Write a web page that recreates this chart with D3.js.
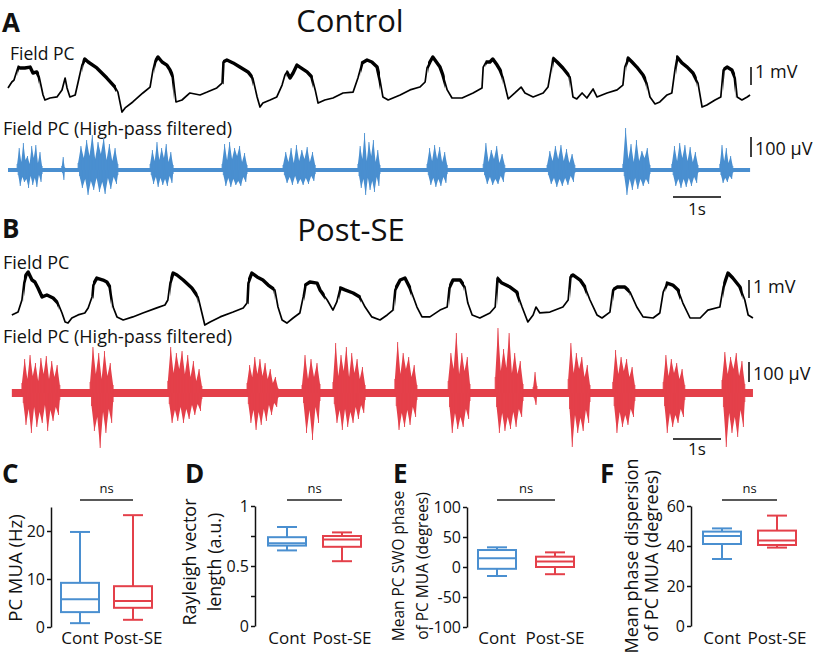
<!DOCTYPE html>
<html><head><meta charset="utf-8">
<script src="https://cdn.jsdelivr.net/npm/d3@7"></script>
<style>body{margin:0;background:#fff} svg{display:block} text{font-family:"Open Sans",sans-serif;fill:#111}</style>
</head><body><svg id="c" width="820" height="658"></svg>
<script>
// ---------- DATA ----------
// LFP traces: [time (s), potential (mV)]
const controlLFP = [[0,0.67],[0.08,1.0],[0.125,1.11],[0.21,1.83],[0.25,1.78],[0.35,1.78],[0.46,1.83],[0.52,1.5],[0.6,1.56],[0.65,1.28],[0.73,0.28],[0.77,0],[0.875,0.11],[1.02,0.17],[1.125,0.56],[1.19,1.22],[1.23,0.67],[1.29,0.17],[1.4,0.28],[1.48,1.22],[1.54,1.94],[1.6,2.28],[1.67,2.11],[1.85,1.78],[2.06,1.22],[2.23,0.72],[2.29,0.44],[2.375,-0.67],[2.44,-0.44],[2.6,-0.11],[2.81,0.39],[2.96,0.72],[3.02,1.67],[3.06,2.11],[3.125,2.39],[3.21,2.11],[3.31,1.94],[3.375,1.67],[3.44,1.28],[3.5,-0.11],[3.625,0],[3.79,0.39],[4.0,0.28],[4.15,0.44],[4.35,0.67],[4.46,0.94],[4.48,2.11],[4.56,2.22],[4.69,2.06],[4.83,1.83],[5.0,1.56],[5.1,1.22],[5.19,0.17],[5.25,-0.39],[5.31,-0.17],[5.46,0],[5.6,0.17],[5.71,0.83],[5.77,1.39],[5.81,1.56],[5.875,1.22],[5.94,1.5],[6.02,1.94],[6.08,1.83],[6.23,1.56],[6.33,1.28],[6.4,0.56],[6.46,-0.17],[6.6,0],[6.77,0.11],[6.98,0.39],[7.19,0.44],[7.29,1.22],[7.375,2.06],[7.48,2.22],[7.58,2.11],[7.69,1.83],[7.75,1.11],[7.81,0.17],[7.92,0],[8.17,0.28],[8.375,0.56],[8.58,0.72],[8.69,1.0],[8.73,1.78],[8.79,2.11],[8.85,2.39],[8.94,2.06],[9.0,1.83],[9.06,1.39],[9.15,0.56],[9.25,0.11],[9.46,0.11],[9.69,0.39],[9.875,0.67],[9.9,1.83],[9.96,2.11],[10.04,2.11],[10.1,2.28],[10.19,1.94],[10.25,1.67],[10.31,1.28],[10.42,0.06],[10.56,0.39],[10.69,0.72],[10.77,0.39],[10.94,0.17],[11.15,0.39],[11.25,0.72],[11.33,1.94],[11.35,2.33],[11.44,2.11],[11.56,1.78],[11.71,1.28],[11.77,0.17],[11.85,0.06],[11.96,0.39],[12.06,0.11],[12.19,0.61],[12.27,0.17],[12.48,0.39],[12.69,0.56],[12.81,0.83],[12.85,1.83],[12.92,2.33],[13.0,2.11],[13.1,1.83],[13.23,1.39],[13.31,0.94],[13.375,0.17],[13.48,-0.22],[13.58,-0.11],[13.73,0.28],[13.83,0.39],[13.9,1.78],[13.94,2.39],[14.04,2.06],[14.15,1.83],[14.27,1.5],[14.375,0.94],[14.46,-0.39],[14.56,-0.28],[14.73,0],[14.85,0.17],[14.9,1.67],[14.98,1.83],[15.08,1.67],[15.15,1.22],[15.19,0.17],[15.29,0],[15.4,0.17],[15.46,0.28]];
const controlUpStates = [[0.2,0.65],[1.55,2.25],[3.05,3.45],[4.48,5.1],[5.8,6.35],[7.35,7.75],[8.75,9.1],[9.95,10.3],[11.35,11.7],[12.88,13.3],[13.92,14.35],[14.9,15.15]];

const postLFP = [[0.08,0.17],[0.21,0.33],[0.29,1.0],[0.33,1.94],[0.375,2.39],[0.42,2.56],[0.5,2.11],[0.56,2.0],[0.625,1.67],[0.71,1.17],[0.81,1.28],[0.94,1.11],[1.04,0.83],[1.125,0.28],[1.19,-0.22],[1.25,-0.28],[1.33,0],[1.46,0.17],[1.6,0.28],[1.67,0.56],[1.75,1.17],[1.77,1.83],[1.85,2.22],[1.98,2.11],[2.06,2.0],[2.125,1.72],[2.19,0.61],[2.27,0.06],[2.4,-0.11],[2.6,0.06],[2.81,0.28],[3.1,0.56],[3.27,0.72],[3.33,1.0],[3.375,1.94],[3.44,2.5],[3.52,2.39],[3.65,2.11],[3.83,1.67],[3.96,1.17],[4.04,0.28],[4.1,-0.39],[4.21,-0.22],[4.42,0.06],[4.69,0.33],[4.9,0.56],[4.98,0.83],[5.0,1.94],[5.08,2.5],[5.19,2.28],[5.31,2.11],[5.42,1.83],[5.56,1.56],[5.625,0.61],[5.71,-0.11],[5.81,-0.28],[5.94,0],[6.08,0.28],[6.15,1.17],[6.19,1.83],[6.29,2.0],[6.44,1.94],[6.5,1.56],[6.65,1.0],[6.77,0.44],[6.85,0.89],[6.92,1.67],[7.02,1.56],[7.19,1.39],[7.33,1.17],[7.44,0.61],[7.58,0.06],[7.75,-0.11],[7.9,0.17],[8.02,0.44],[8.06,1.56],[8.17,2.11],[8.27,2.22],[8.375,1.67],[8.52,0.61],[8.625,0.06],[8.79,0.06],[9.0,0.44],[9.15,0.61],[9.19,1.67],[9.27,2.11],[9.42,2.11],[9.52,1.72],[9.58,0.83],[9.67,0.17],[9.83,0],[10.04,0.28],[10.15,0.61],[10.19,2.22],[10.29,1.94],[10.46,1.72],[10.6,1.44],[10.71,0.61],[10.83,-0.22],[10.94,0.17],[11.0,0.61],[11.08,0.28],[11.29,0.33],[11.56,0.61],[11.67,1.0],[11.71,2.28],[11.77,2.39],[11.92,2.11],[12.02,1.72],[12.125,1.0],[12.27,0.17],[12.375,0],[12.54,0.33],[12.6,1.56],[12.69,1.72],[12.85,1.72],[12.96,1.44],[13.1,0.61],[13.23,0.06],[13.44,0],[13.58,0.28],[13.65,1.44],[13.73,1.94],[13.85,1.83],[13.96,1.56],[14.06,0.83],[14.21,0],[14.42,0],[14.58,0.44],[14.83,0.61],[14.9,1.72],[15.0,2.5],[15.1,2.22],[15.25,1.72],[15.35,1.0],[15.42,0.17],[15.52,0]];
const postUpStates = [[0.33,1.05],[1.77,2.15],[3.38,3.95],[5.0,5.55],[6.17,6.6],[6.9,7.35],[8.06,8.4],[9.19,9.5],[10.19,10.65],[11.71,12.05],[12.6,12.95],[13.7,14.0],[14.9,15.3]];

// High-pass filtered traces: span (s), baseline noise (µV), bursts [t0, t1, upward peaks µV, downward peaks µV]
const controlHPSpan = [0, 15.46];
const controlHPNoise = 10;
const controlBursts = [
  [0.19,0.71,[30,110,40,135,50,70,30,120,60,125,35,90,20],[25,80,35,60,45,90,30,75,40,85,25,60,20]],
  [1.12,1.18,[20,65,15],[15,50,10]],
  [1.46,2.29,[35,120,60,150,70,175,55,140,80,160,50,130,45,110,30],[30,90,45,125,55,100,40,110,60,120,40,95,35,70,25]],
  [2.96,3.44,[30,100,45,140,50,110,60,130,40,90,25],[25,70,35,85,40,75,45,80,30,65,20]],
  [4.46,4.98,[30,130,50,140,55,110,70,120,40,85,25],[25,80,40,85,45,75,55,80,35,60,20]],
  [5.73,6.40,[25,90,40,110,35,125,45,100,55,115,40,90,25],[25,65,35,75,30,70,45,75,40,70,30,55,20]],
  [7.29,7.75,[30,120,55,185,45,140,70,150,40,100,25],[30,90,45,125,40,100,55,110,35,80,20]],
  [8.73,9.15,[30,110,45,125,55,115,40,90,25],[25,75,40,85,45,80,35,65,20]],
  [9.90,10.35,[30,135,40,100,55,120,35,80,25],[25,70,35,75,45,70,30,60,15]],
  [11.23,11.81,[25,95,45,120,55,125,45,105,35,80,25],[25,70,40,85,45,80,40,75,30,60,15]],
  [12.81,13.375,[30,210,55,130,40,150,45,95,60,110,25],[30,125,45,100,40,95,45,80,45,70,20]],
  [13.83,14.375,[30,120,45,135,60,125,45,115,40,90,25],[25,80,45,90,45,85,40,80,35,65,15]],
  [14.83,15.10,[30,125,45,110,35,70,20],[25,65,40,60,30,45,15]]
];
const postHPSpan = [0.08, 15.52];
const postHPNoise = 20;
const postBursts = [
  [0.29,1.08,[50,170,70,190,85,150,60,175,95,185,70,160,80,140,40],[50,160,80,200,70,170,95,150,60,190,85,140,70,110,35]],
  [1.71,2.19,[55,230,95,200,70,210,85,150,40],[65,190,120,275,95,200,80,150,45]],
  [3.33,4.04,[60,230,100,200,120,210,95,190,80,160,60,120,35],[55,150,85,140,70,150,80,130,60,110,55,90,30]],
  [4.98,5.625,[50,140,80,180,95,170,85,150,70,120,50,80,25],[55,150,85,185,95,160,80,140,60,110,50,70,25]],
  [6.125,6.5,[40,190,70,170,80,150,45],[50,200,85,235,70,150,40]],
  [6.77,7.44,[55,250,85,190,110,230,80,200,100,170,70,130,40],[55,150,85,185,80,170,95,150,70,130,60,100,35]],
  [8.06,8.52,[70,255,95,200,120,180,80,140,40],[65,185,100,170,85,160,70,120,35]],
  [9.17,9.625,[60,200,120,300,95,200,110,180,45],[70,200,100,180,120,170,80,130,40]],
  [10.15,10.73,[80,325,110,220,125,300,100,200,95,160,45],[70,200,100,190,120,180,95,170,80,120,40]],
  [10.94,11.02,[30,105,35],[25,60,20]],
  [11.67,12.125,[70,250,100,200,120,180,80,140,40],[80,270,110,200,125,190,85,150,45]],
  [12.60,13.06,[55,215,95,180,110,170,80,130,40],[65,200,95,170,110,160,80,120,40]],
  [13.65,14.10,[55,190,85,170,100,150,70,120,40],[65,200,100,170,110,150,80,120,35]],
  [14.875,15.35,[65,205,95,180,120,200,85,160,45],[70,270,100,200,120,220,85,170,45]]
];

// Box plots: [min, q1, median, q3, max]
const groups = ["Cont", "Post-SE"];
const muaRate = [[0.8,3.1,5.8,9.2,19.8],[1.5,4.0,5.4,8.5,23.3]];
const rayleigh = [[0.63,0.67,0.69,0.74,0.825],[0.54,0.66,0.72,0.75,0.78]];
const meanPhase = [[-15,-3,14.5,28.3,32.8],[-12,0,9,17.2,24.4]];
const phaseDisp = [[33.5,41,45,47.2,48.8],[39.2,40.5,42.7,47.7,55.2]];
const muaTicks = [0,10,20];
const rayTicks = [0,0.25,0.5,0.75,1];
const rayTickLabels = [0,0.5,1];
const phaseTicks = [-100,-50,0,50,100];
const dispTicks = [0,20,40,60];

// ---------- DRAWING ----------
const BLUE = "#4a8fd0", RED = "#e4404a";
const svg = d3.select("#c");
const x = d3.scaleLinear().domain([0, 15.5]).range([8, 752]);

function txt(s, px, py, size, opts = {}) {
  const t = svg.append("text").attr("x", px).attr("y", py).attr("font-size", size).text(s);
  if (opts.anchor) t.attr("text-anchor", opts.anchor);
  if (opts.bold) t.attr("font-weight", "bold").attr("font-family", "Liberation Sans, Arial, sans-serif");
  if (opts.rot) t.attr("transform", `rotate(-90 ${px} ${py})`);
  return t;
}

function drawLFP(data, ups, yS, id) {
  const line = d3.line().x(d => x(d[0])).y(d => yS(d[1]));
  svg.append("path").datum(data).attr("d", line).attr("fill", "none")
    .attr("stroke", "#000").attr("stroke-width", 1.7).attr("stroke-linejoin", "round");
  const cp = svg.append("defs").append("clipPath").attr("id", id);
  cp.selectAll("rect").data(ups).join("rect")
    .attr("x", d => x(d[0])).attr("width", d => x(d[1]) - x(d[0])).attr("y", 0).attr("height", 658);
  svg.append("path").datum(data).attr("d", line).attr("fill", "none")
    .attr("stroke", "#000").attr("stroke-width", 3.4).attr("stroke-linejoin", "round")
    .attr("clip-path", `url(#${id})`);
}

function drawHP(span, noise, bursts, hS, color) {
  const g = svg.append("g").attr("fill", color);
  g.append("rect").attr("x", x(span[0])).attr("width", x(span[1]) - x(span[0]))
    .attr("y", hS(noise)).attr("height", hS(-noise) - hS(noise));
  bursts.forEach(b => {
    const n = b[2].length, dt = (b[1] - b[0]) / (n - 1);
    const top = b[2].map((u, k) => ({ t: b[0] + k * dt, a: u }));
    const bot = b[3].map((d, k) => ({ t: Math.min(b[1], b[0] + (k + 0.5) * dt), a: -d }));
    const upArea = d3.area().x(d => x(d.t)).y0(hS(0)).y1(d => hS(d.a));
    g.append("path").datum(top).attr("d", upArea);
    g.append("path").datum(bot).attr("d", upArea);
    g.selectAll(null).data(top.concat(bot)).join("line")
      .attr("x1", d => x(d.t)).attr("x2", d => x(d.t))
      .attr("y1", hS(0)).attr("y2", d => hS(d.a))
      .attr("stroke", color).attr("stroke-width", 0.9);
  });
}

// Panel A
txt("A", 2, 32, 26, { bold: true });
txt("Control", 350, 32, 31, { anchor: "middle" });
txt("Field PC", 10, 60, 17.5);
txt("Field PC (High-pass filtered)", 3, 135, 18);
const yA = d3.scaleLinear().domain([0, 1]).range([100, 82]);
drawLFP(controlLFP, controlUpStates, yA, "upA");
const hA = d3.scaleLinear().domain([0, 100]).range([170, 150]);
drawHP(controlHPSpan, controlHPNoise, controlBursts, hA, BLUE);

// Panel B
txt("B", 2, 238, 26, { bold: true });
txt("Post-SE", 351, 241, 31, { anchor: "middle" });
txt("Field PC", 3, 269, 18);
txt("Field PC (High-pass filtered)", 3, 343, 18);
const yB = d3.scaleLinear().domain([0, 1]).range([318, 300]);
drawLFP(postLFP, postUpStates, yB, "upB");
const hB = d3.scaleLinear().domain([0, 100]).range([393, 373]);
drawHP(postHPSpan, postHPNoise, postBursts, hB, RED);

// Scale bars
function vbar(bx, top, len, label, ty) {
  svg.append("line").attr("x1", bx).attr("x2", bx).attr("y1", top).attr("y2", top + len)
    .attr("stroke", "#000").attr("stroke-width", 1.5);
  txt(label, bx + 4, ty, 18);
}
function hbar(x0, by, label, ty) {
  svg.append("line").attr("x1", x0).attr("x2", x0 + (x(1) - x(0))).attr("y1", by).attr("y2", by)
    .attr("stroke", "#000").attr("stroke-width", 1.5);
  txt(label, x0 + (x(1) - x(0)) / 2, ty, 17, { anchor: "middle" });
}
vbar(751, 67, yA(0) - yA(1), "1 mV", 78);
vbar(751, 137, hA(0) - hA(100), "100 µV", 155);
hbar(673, 197, "1s", 215);
vbar(749, 280, yB(0) - yB(1), "1 mV", 293);
vbar(749, 362, hB(0) - hB(100), "100 µV", 380);
hbar(673, 439, "1s", 455);

// Box plot panels
const panels = [
  { letter: "C", lx: 2, data: muaRate, dom: [0, 25], ticks: muaTicks, labels: muaTicks, ax: 51, yr: [627, 507], cx: [80, 133],
    ylab: ["PC MUA (Hz)"], ylx: [22], yly: 568, yls: 18.5 },
  { letter: "D", lx: 185, data: rayleigh, dom: [0, 1], ticks: rayTicks, labels: rayTickLabels, ax: 255, yr: [626, 506], cx: [287, 342],
    ylab: ["Rayleigh vector", "length (a.u.)"], ylx: [196, 221], yly: 562, yls: 18 },
  { letter: "E", lx: 393, data: meanPhase, dom: [-100, 100], ticks: phaseTicks, labels: phaseTicks, ax: 467, yr: [627, 507], cx: [497, 555],
    ylab: ["Mean PC SWO phase", "of PC MUA (degrees)"], ylx: [404, 428], yly: 566, yls: 15.5 },
  { letter: "F", lx: 600, data: phaseDisp, dom: [0, 60], ticks: dispTicks, labels: dispTicks, ax: 691, yr: [626, 506], cx: [722, 777],
    ylab: ["Mean phase dispersion", "of PC MUA (degrees)"], ylx: [638, 658], yly: 556, yls: 18 }
];
const colors = [BLUE, RED];

panels.forEach(p => {
  txt(p.letter, p.lx, 483, 26, { bold: true });
  const y = d3.scaleLinear().domain(p.dom).range(p.yr);
  const axis = d3.axisLeft(y).tickValues(p.ticks).tickSize(4).tickSizeOuter(0).tickPadding(2)
    .tickFormat(d => p.labels.includes(d) ? String(d) : "");
  const ag = svg.append("g").attr("transform", `translate(${p.ax},0)`).call(axis);
  ag.selectAll("path,line").attr("stroke", "#111").attr("stroke-width", 1.5);
  ag.selectAll("text").attr("font-size", 16).attr("font-family", "Open Sans, sans-serif").attr("fill", "#111");
  p.ylab.forEach((s, i) => txt(s, p.ylx[i], p.yly, p.yls, { anchor: "middle", rot: true }));

  const xs = d3.scaleOrdinal().domain(groups).range(p.cx);
  groups.forEach((gname, i) => {
    const v = p.data[i], cx = xs(gname), col = colors[i];
    const g = svg.append("g").attr("stroke", col).attr("stroke-width", 2).attr("fill", "none");
    g.append("line").attr("x1", cx).attr("x2", cx).attr("y1", y(v[4])).attr("y2", y(v[3]));
    g.append("line").attr("x1", cx).attr("x2", cx).attr("y1", y(v[1])).attr("y2", y(v[0]));
    g.append("line").attr("x1", cx - 10).attr("x2", cx + 10).attr("y1", y(v[4])).attr("y2", y(v[4]));
    g.append("line").attr("x1", cx - 10).attr("x2", cx + 10).attr("y1", y(v[0])).attr("y2", y(v[0]));
    g.append("rect").attr("x", cx - 19).attr("width", 38).attr("y", y(v[3])).attr("height", y(v[1]) - y(v[3]));
    g.append("line").attr("x1", cx - 19).attr("x2", cx + 19).attr("y1", y(v[2])).attr("y2", y(v[2]));
    txt(gname, cx, 644, 17, { anchor: "middle" });
  });
  svg.append("line").attr("x1", xs(groups[0])).attr("x2", xs(groups[1])).attr("y1", 500).attr("y2", 500)
    .attr("stroke", "#222").attr("stroke-width", 1.3);
  txt("ns", (xs(groups[0]) + xs(groups[1])) / 2, 493, 13, { anchor: "middle" });
});
</script>
</body></html>
